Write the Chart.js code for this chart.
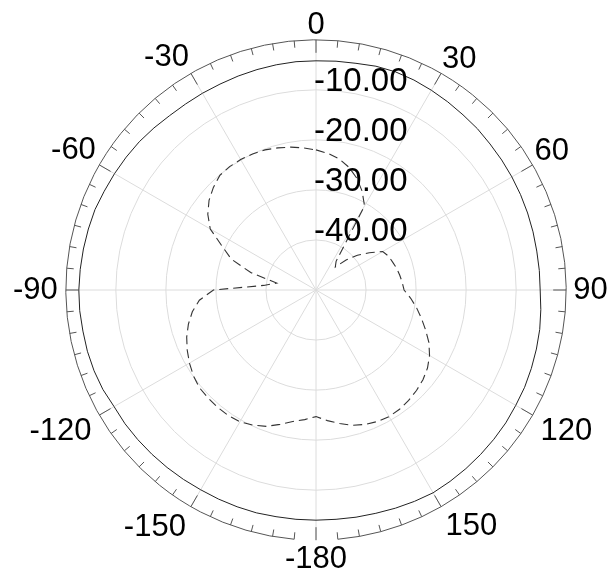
<!DOCTYPE html>
<html>
<head>
<meta charset="utf-8">
<script src="https://cdn.jsdelivr.net/npm/chart.js@4.4.1/dist/chart.umd.min.js"></script>
<style>
  html, body { margin: 0; padding: 0; background: #fff; }
  canvas { display: block; }
</style>
</head>
<body>
<canvas id="polar" width="614" height="581"></canvas>
<script>
// angles every 5 deg, clockwise from the top
const angles = Array.from({ length: 72 }, (_, i) => i * 5);

// dB, same order as angles (0, 5, ... 355)
const solidTrace = [
  -4.2, -4.1, -4.0, -3.7, -3.6, -3.7, -3.9, -4.1, -4.3, -4.4, -4.6, -4.7,
  -4.8, -4.9, -5.0, -5.1, -5.2, -5.2, -5.2, -4.9, -4.6, -4.4, -4.2, -4.0,
  -3.9, -3.7, -3.6, -3.5, -3.4, -3.3, -3.2, -3.4, -3.6, -3.8, -3.9, -4.0,
  -4.0, -4.0, -4.0, -3.9, -3.9, -3.9, -3.9, -3.8, -3.7, -3.6, -3.5, -3.4,
  -3.4, -3.0, -2.8, -2.7, -2.7, -2.6, -2.6, -2.7, -2.8, -2.9, -3.0, -3.3,
  -3.5, -3.7, -3.9, -4.2, -4.5, -4.6, -4.6, -4.6, -4.5, -4.4, -4.3, -4.2
];

const dashedTrace = [
  -22.0, -22.6, -23.4, -24.6, -26.2, -28.2, -30.6, -43.0, -44.0, -41.5, -39.2, -37.0,
  -34.6, -34.0, -33.7, -33.3, -33.0, -32.7, -32.4, -31.0, -29.6, -28.2, -26.7, -25.1,
  -23.8, -22.8, -22.1, -21.6, -21.2, -20.9, -20.8, -21.0, -21.4, -22.0, -22.9, -23.8,
  -24.7, -24.0, -23.3, -22.2, -21.0, -20.2, -19.6, -19.4, -19.4, -19.5, -19.6, -20.1,
  -20.8, -21.6, -22.5, -23.6, -24.9, -26.6, -29.5, -39.5, -42.0, -36.5, -32.0, -29.3,
  -25.6, -23.6, -22.1, -21.0, -20.1, -19.9, -19.9, -20.0, -20.2, -20.6, -21.0, -21.5
];

const ringValues = [-40, -30, -20, -10];
const ringLabels = ["-40.00", "-30.00", "-20.00", "-10.00"];

// label text shown every 30 deg
const angleLabels = angles.map((a) => {
  if (a % 30 !== 0) return "";
  if (a === 180) return "-180";
  return String(a > 180 ? a - 360 : a);
});

// per-label gap from the outer ring
const labelGap = { 0: 2, 30: 2, 60: 2, 90: 7, 120: 9, 150: 9, 180: 7, 210: 10, 240: 9, 270: 8, 300: 4, 330: 4 };

const rad = (d) => d * Math.PI / 180;

const polarFrame = {
  id: "polarFrame",
  afterDatasetsDraw(chart) {
    const r = chart.scales.r;
    const ctx = chart.ctx;
    const cx = r.xCenter;
    const cy = r.yCenter;
    const outer = r.getDistanceFromCenterForValue(r.max);

    ctx.save();
    ctx.strokeStyle = "#555";
    ctx.lineWidth = 1;

    // outer ring, open at the bottom
    ctx.beginPath();
    ctx.arc(cx, cy, outer, rad(95), rad(445));
    ctx.stroke();

    angles.forEach((a, i) => {
      const len = a % 30 === 0 ? 13 : 7;
      const p1 = r.getPointPosition(i, outer);
      const p2 = r.getPointPosition(i, outer - len);
      ctx.beginPath();
      ctx.moveTo(p1.x, p1.y);
      ctx.lineTo(p2.x, p2.y);
      ctx.stroke();
    });

    ctx.fillStyle = "#000";
    ctx.font = "33px 'Liberation Sans', Arial, sans-serif";
    ctx.textAlign = "left";
    ctx.textBaseline = "alphabetic";
    ringValues.forEach((v, i) => {
      const d = r.getDistanceFromCenterForValue(v);
      ctx.fillText(ringLabels[i], cx - 2, cy - d + 1);
    });
    ctx.restore();
  }
};

new Chart(document.getElementById("polar"), {
  type: "radar",
  data: {
    labels: angleLabels,
    datasets: [
      {
        label: "solid",
        data: solidTrace,
        borderColor: "#222",
        borderWidth: 1,
        fill: false,
        pointRadius: 0,
        tension: 0
      },
      {
        label: "dashed",
        data: dashedTrace,
        borderColor: "#333",
        borderWidth: 1.1,
        borderDash: [9, 5],
        fill: false,
        pointRadius: 0,
        tension: 0
      }
    ]
  },
  options: {
    responsive: false,
    animation: false,
    layout: { padding: { left: 8, right: 0, top: 11, bottom: 7 } },
    plugins: {
      legend: { display: false },
      tooltip: { enabled: false }
    },
    scales: {
      r: {
        min: -50,
        max: 0,
        ticks: { stepSize: 10, display: false },
        grid: {
          circular: true,
          color: (c) => (c.tick && c.tick.value === 0 ? "rgba(0,0,0,0)" : "#dcdcdc"),
          lineWidth: 1
        },
        angleLines: {
          display: true,
          color: (c) => (angles[c.index] % 30 === 0 ? "#dcdcdc" : "rgba(0,0,0,0)"),
          lineWidth: 1
        },
        pointLabels: {
          display: true,
          color: "#000",
          font: { family: "'Liberation Sans', Arial, sans-serif", size: 31, lineHeight: 0.78 },
          padding: (c) => labelGap[angles[c.index]] || 0
        }
      }
    }
  },
  plugins: [polarFrame]
});
</script>
</body>
</html>
